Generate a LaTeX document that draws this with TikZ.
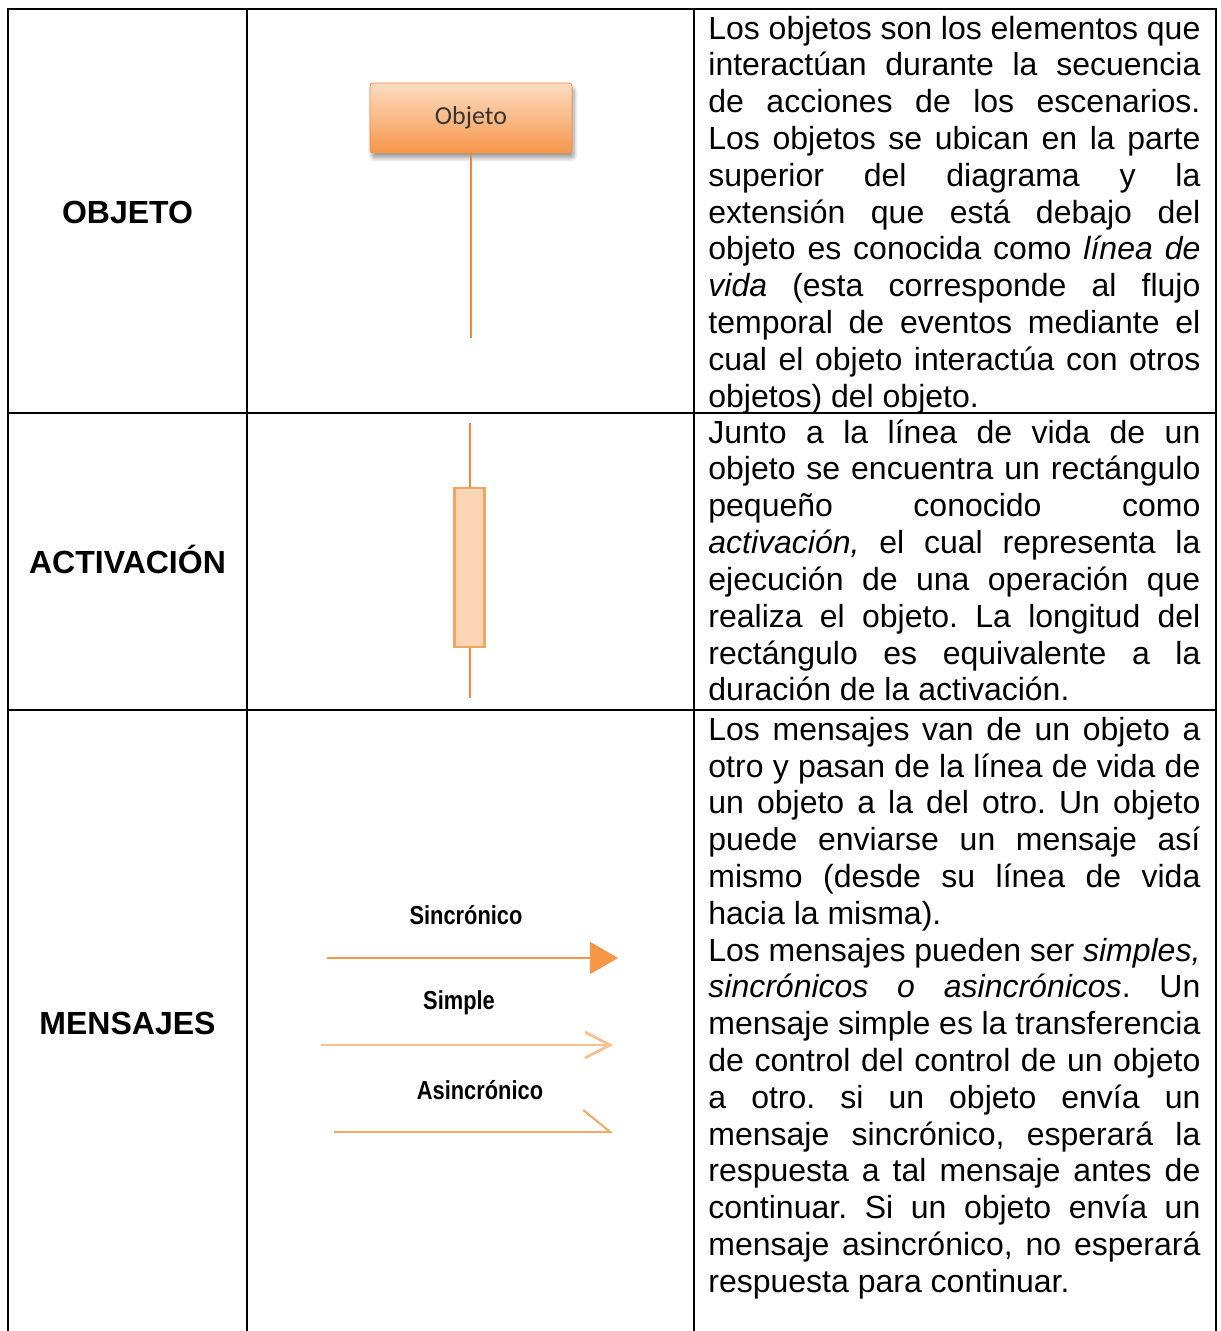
\documentclass[tikz,border=0pt]{standalone}
\usepackage{fontspec}
\setmainfont{Liberation Sans}
\newfontfamily\boxfont{Carlito}
\usetikzlibrary{arrows.meta,shadows.blur}
\definecolor{objtop}{HTML}{FCDCC2}
\definecolor{objbot}{HTML}{F7964A}
\definecolor{objline}{HTML}{F3913F}
\definecolor{objtext}{HTML}{353535}
\definecolor{lifeline}{HTML}{F0873A}
\definecolor{actfill}{HTML}{FCD5B5}
\definecolor{actline}{HTML}{F2A463}
\definecolor{synccol}{HTML}{F79646}
\definecolor{simplecol}{HTML}{FAC08F}
\definecolor{asynccol}{HTML}{F8A765}
\newcommand{\firstline}{\rule{0pt}{12.9pt}}

\begin{document}
\begin{tikzpicture}[x=0.5pt,y=-0.5pt,
	grid/.style={line width=1pt},
	rowname/.style={anchor=base,inner sep=0pt,font=\fontsize{16}{18.4}\selectfont\bfseries},
	cell/.style={anchor=north west,inner sep=0pt,text width=246pt,align=justify,
		font=\fontsize{16}{18.4}\selectfont,
		execute at begin node={\tolerance=10000\relax\frenchspacing}},
	object/.style={draw=objline,rounded corners=1.5pt,top color=objtop,bottom color=objbot,
		minimum width=101pt,minimum height=35pt,
		blur shadow={shadow xshift=1pt,shadow yshift=-2.5pt,shadow blur steps=6},
		font=\boxfont\fontsize{13}{13}\selectfont,text=objtext},
	life/.style={draw=lifeline,line width=1pt},
	act/.style={draw=actline,fill=actfill,line width=1.2pt,minimum width=15pt,minimum height=79.5pt,inner sep=0pt},
	msg/.style={font=\fontsize{13}{13}\selectfont\bfseries,xscale=0.84,transform shape}]
	\useasboundingbox (0,0) rectangle (1220,1331);
	% table
	\draw[grid] (8,1331) -- (8,9) -- (1216,9) -- (1216,1331);
	\draw[grid] (247,9) -- (247,1331);
	\draw[grid] (694,9) -- (694,1331);
	\draw[grid] (8,413) -- (1216,413);
	\draw[grid] (8,710) -- (1216,710);
	\node[rowname] (r1) at (127.5,223.5) {OBJETO};
	\node[rowname] (r2) at (127.5,573.5) {ACTIVACIÓN};
	\node[rowname] (r3) at (127.5,1034.5) {MENSAJES};
	% objeto
	\node[object] (obj) at (471,118) {Objeto};
	\coordinate (objend) at (471,338);
	\draw[life] (obj) -- (objend);
	% activacion
	\coordinate (acttop) at (469.5,423);
	\node[act] (act) at (469.5,567.5) {};
	\coordinate (actbot) at (469.5,698);
	\draw[life] (acttop) -- (act.north);
	\draw[life] (act.south) -- (actbot);
	% mensajes
	\node[msg] (sync) at (466,915) {Sincrónico};
	\coordinate (s1) at (327,958);
	\coordinate (s2) at (618,958);
	\draw[draw=synccol,line width=1pt,-{Triangle[length=14pt,width=16pt]}] (s1) -- (s2);
	\node[msg] (simple) at (459,1003) {Simple};
	\coordinate (p1) at (321,1045);
	\coordinate (p2) at (613,1045);
	\draw[draw=simplecol,line width=1.4pt,-{Straight Barb[length=12.5pt,width=13pt]}] (p1) -- (p2);
	\node[msg] (async) at (480,1090) {Asincrónico};
	\coordinate (a1) at (334,1132);
	\coordinate (a2) at (613,1132);
	\draw[draw=asynccol,line width=1pt,-{Straight Barb[left,length=13.5pt,width=22pt]}] (a1) -- (a2);
	% texts
	\node[cell] (t1) at (708,13) {\firstline Los objetos son los elementos que\linebreak
		interactúan durante la secuencia\linebreak
		de acciones de los escenarios.\linebreak
		Los objetos se ubican en la parte\linebreak
		superior del diagrama y la\linebreak
		extensión que está debajo del\linebreak
		objeto es conocida como \emph{línea de\linebreak
		vida} (esta corresponde al flujo\linebreak
		temporal de eventos mediante el\linebreak
		cual el objeto interactúa con otros\linebreak
		objetos) del objeto.};
	\node[cell] (t2) at (708,417) {\firstline Junto a la línea de vida de un\linebreak
		objeto se encuentra un rectángulo\linebreak
		pequeño conocido como\linebreak
		\emph{activación,} el cual representa la\linebreak
		ejecución de una operación que\linebreak
		realiza el objeto. La longitud del\linebreak
		rectángulo es equivalente a la\linebreak
		duración de la activación.};
	\node[cell] (t3) at (708,714) {\firstline Los mensajes van de un objeto a\linebreak
		otro y pasan de la línea de vida de\linebreak
		un objeto a la del otro. Un objeto\linebreak
		puede enviarse un mensaje así\linebreak
		mismo (desde su línea de vida\linebreak
		hacia la misma).\\
		Los mensajes pueden ser \emph{simples,\linebreak
		sincrónicos o asincrónicos}. Un\linebreak
		mensaje simple es la transferencia\linebreak
		de control del control de un objeto\linebreak
		a otro. si un objeto envía un\linebreak
		mensaje sincrónico, esperará la\linebreak
		respuesta a tal mensaje antes de\linebreak
		continuar. Si un objeto envía un\linebreak
		mensaje asincrónico, no esperará\linebreak
		respuesta para continuar.};
\end{tikzpicture}
\end{document}
